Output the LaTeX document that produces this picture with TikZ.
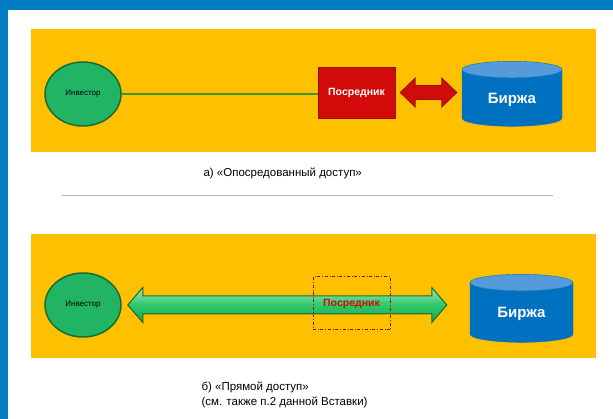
\documentclass[tikz,border=0pt]{standalone}
\usepackage{fontspec}
\setmainfont{Liberation Sans}
\usetikzlibrary{shapes.geometric,calc}
\definecolor{frameblue}{RGB}{0,125,195}
\definecolor{panelorange}{RGB}{255,192,0}
\definecolor{investgreen}{RGB}{32,180,100}
\definecolor{darkgreen}{RGB}{25,110,45}
\definecolor{linegreen}{RGB}{60,150,40}
\definecolor{arrowgreen}{RGB}{45,200,105}
\definecolor{boxred}{RGB}{210,10,10}
\definecolor{darkred}{RGB}{140,20,10}
\definecolor{exchblue}{RGB}{0,112,192}
\definecolor{exchtop}{RGB}{85,155,220}
\tikzset{panel/.style={fill=panelorange},
  investor/.style={ellipse, draw=darkgreen, line width=1.5pt, fill=investgreen,
    minimum width=76pt, minimum height=64pt, inner sep=0pt,
    font=\fontsize{8}{9}\selectfont},
  broker/.style={rectangle, draw=darkred, fill=boxred, minimum width=77pt,
    minimum height=51pt, text=white, font=\bfseries\fontsize{10.5}{12}\selectfont},
  brokerdash/.style={rectangle, draw=darkred, dash dot, line width=1pt,
    minimum width=77pt, minimum height=53pt, text=boxred,
    font=\bfseries\fontsize{10.5}{12}\selectfont},
  exchange/.style={cylinder, shape border rotate=90, aspect=0.3,
    cylinder uses custom fill, cylinder body fill=exchblue,
    cylinder end fill=exchtop, draw=exchblue, text=white,
    font=\bfseries\fontsize{15}{17}\selectfont},
  caption/.style={font=\fontsize{11.5}{15}\selectfont, align=left}}
% #1 style, #2 start, #3 end, #4 half shaft, #5 half head, #6 head length
\newcommand*\fatarrow[6]{%
  \draw[#1] (#2) -- ($(#2)+(#6,#5)$) -- ($(#2)+(#6,#4)$) -- ($(#3)+(-#6,#4)$)
    -- ($(#3)+(-#6,#5)$) -- (#3) -- ($(#3)+(-#6,-#5)$) -- ($(#3)+(-#6,-#4)$)
    -- ($(#2)+(#6,-#4)$) -- ($(#2)+(#6,-#5)$) -- cycle;}

\begin{document}
\begin{tikzpicture}[x=1pt,y=-1pt]
    \useasboundingbox (0,0) rectangle (613,419);
    \fill[white] (0,0) rectangle (613,419);
    \fill[frameblue] (0,0) rectangle (613,10);
    \fill[frameblue] (0,0) rectangle (8,419);
    \fill[panel] (31,29) rectangle (596,152);
    \fill[panel] (31,234) rectangle (596,358);
    \draw[gray!60, line width=1pt] (62,196) -- (553,196);
    %
    \node[investor] (inv1) at (83,94) {Инвестор};
    \node[broker] (posr1) at (356.5,92.5) {Посредник};
    \node[exchange, minimum width=100pt, minimum height=65pt] (birzha1) at (512,99.5) {Биржа};
    \draw[linegreen, line width=1.2pt] (inv1.east) -- (inv1.east -| posr1.west);
    \coordinate (r1) at ($(posr1.east)+(5,0)$);
    \coordinate (r2) at ($(posr1.east -| birzha1.west)+(-5,0)$);
    \fatarrow{fill=boxred, draw=darkred, line width=0.8pt}{r1}{r2}{7}{14.5}{15}
    \node[caption, anchor=west] (capa) at (200,173) {а) «Опосредованный доступ»};
    %
    \node[investor] (inv2) at (83,305) {Инвестор};
    \node[exchange, minimum width=103pt, minimum height=68pt] (birzha2) at (521.5,314) {Биржа};
    \coordinate (g1) at ($(inv2.east)+(6,0)$);
    \coordinate (g2) at ($(inv2.east -| birzha2.west)+(-23,0)$);
    \fatarrow{top color=arrowgreen!45!white, bottom color=arrowgreen!80!black,
      middle color=arrowgreen, draw=darkgreen, line width=1pt}{g1}{g2}{9}{17.5}{15}
    \node[brokerdash] (posr2) at (351.5,303.5) {Посредник};
    \node[caption, anchor=north west] (capb) at (198,378) {б) «Прямой доступ»\\(см. также п.2 данной Вставки)};
\end{tikzpicture}
\end{document}
